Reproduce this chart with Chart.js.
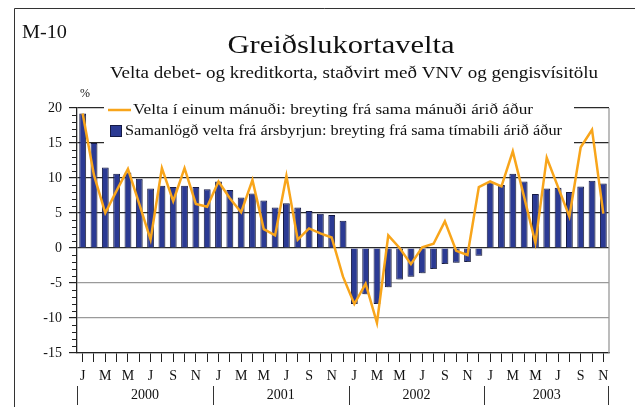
<!DOCTYPE html>
<html>
<head>
<meta charset="utf-8">
<script src="https://cdn.jsdelivr.net/npm/chart.js@4.4.0/dist/chart.umd.min.js"></script>
<style>
html, body { margin: 0; padding: 0; background: #fff; }
</style>
</head>
<body>
<canvas id="kortChart" width="635" height="407"></canvas>
<script>
// Greiðslukortavelta - gögn lesin af mynd
const years = ['2000', '2001', '2002', '2003'];
const monthsPerYear = [12, 12, 12, 11];
const monthLetters = ['J', 'F', 'M', 'A', 'M', 'J', 'J', 'Á', 'S', 'O', 'N', 'D'];

// Velta í einum mánuði: breyting frá sama mánuði árið áður (%)
const monthChange = [
    19.2, 10.4, 5.0, 8.2, 11.3, 6.3, 1.2, 11.4, 6.7, 11.4, 6.3, 5.9,
    9.5, 7.1, 5.1, 9.7, 2.7, 1.8, 10.3, 1.2, 2.8, 2.1, 1.5, -4.1,
    -8.0, -5.1, -10.7, 1.8, 0.0, -2.3, 0.1, 0.6, 3.8, -0.4, -1.0, 8.7,
    9.5, 8.8, 13.8, 7.3, 0.7, 12.9, 8.7, 4.5, 14.4, 16.9, 4.9
];

// Samanlögð velta frá ársbyrjun: breyting frá sama tímabili árið áður (%)
const ytdChange = [
    19.2, 15.0, 11.5, 10.6, 10.8, 9.9, 8.5, 8.9, 8.7, 8.9, 8.7, 8.4,
    9.5, 8.3, 7.2, 7.8, 6.8, 5.8, 6.4, 5.8, 5.3, 4.9, 4.7, 3.9,
    -8.0, -6.6, -8.0, -5.6, -4.5, -4.1, -3.6, -3.0, -2.3, -2.1, -2.0, -1.1,
    9.4, 9.0, 10.6, 9.5, 7.7, 8.5, 8.6, 8.0, 8.8, 9.6, 9.2
];

const yMin = -15, yMax = 20, yStep = 5;

const labels = [];
monthsPerYear.forEach(n => {
    for (let m = 0; m < n; m++) labels.push(monthLetters[m]);
});

const serif = '"Liberation Serif", "Times New Roman", serif';
const orange = '#F8A51B';
const blue = '#2B3A93';

// texti teygður láréttt í ákveðna breidd (letrið á myndinni er breiðara)
function wideText(c, text, x, y, width, align) {
    const w = c.measureText(text).width;
    const sx = width / w;
    c.save();
    c.translate(x, y);
    c.scale(sx, 1);
    c.textAlign = align;
    c.fillText(text, 0, 0);
    c.restore();
}

// teikna titla, ramma, skýringar og ár
const decor = {
    id: 'decor',
    beforeDraw(chart) {
        const c = chart.ctx;
        c.save();
        c.fillStyle = '#fff';
        c.fillRect(0, 0, chart.width, chart.height);
        c.strokeStyle = '#333';
        c.lineWidth = 1;
        c.beginPath();
        c.moveTo(14.5, chart.height);
        c.lineTo(14.5, 8.5);
        c.lineTo(chart.width, 8.5);
        c.stroke();
        c.restore();
    },
    beforeDatasetsDraw(chart) {
        const c = chart.ctx, a = chart.chartArea, y = chart.scales.y;
        c.save();
        // hvítur bakgrunnur skýringa
        c.fillStyle = '#fff';
        c.fillRect(104, a.top - 6, 470, 52);
        // litlar kvarðamerkingar
        c.strokeStyle = '#222';
        c.lineWidth = 1;
        c.beginPath();
        for (let v = yMin; v <= yMax; v++) {
            if (v % yStep === 0) continue;
            const py = Math.round(y.getPixelForValue(v)) + 0.5;
            c.moveTo(a.left - 5, py);
            c.lineTo(a.left, py);
        }
        c.stroke();
        // hægri rammi
        c.strokeStyle = '#999';
        c.lineWidth = 1.3;
        c.beginPath();
        c.moveTo(a.right, a.top);
        c.lineTo(a.right, a.bottom);
        c.stroke();
        c.restore();
    },
    beforeDatasetDraw(chart, args) {
        if (chart.data.datasets[args.index].type === 'bar') {
            const c = chart.ctx;
            c.save();
            c.shadowColor = 'rgba(110,110,110,0.45)';
            c.shadowOffsetX = 2;
            c.shadowOffsetY = 1;
        }
    },
    afterDatasetDraw(chart, args) {
        if (chart.data.datasets[args.index].type === 'bar') chart.ctx.restore();
    },
    afterDraw(chart) {
        const c = chart.ctx, x = chart.scales.x;
        const ds = chart.data.datasets;
        c.save();
        c.fillStyle = '#111';
        c.textBaseline = 'middle';

        c.font = '18px ' + serif;
        wideText(c, 'M-10', 22, 33, 45, 'left');

        c.font = '25px ' + serif;
        wideText(c, 'Greiðslukortavelta', 341, 46, 227, 'center');

        c.font = '16px ' + serif;
        wideText(c, 'Velta debet- og kreditkorta, staðvirt með VNV og gengisvísitölu', 354, 74, 488, 'center');

        c.font = '12px ' + serif;
        c.textAlign = 'center';
        c.fillText('%', 85, 94);

        // skýringar
        c.font = '15px ' + serif;
        c.strokeStyle = ds[0].borderColor;
        c.lineWidth = ds[0].borderWidth;
        c.beginPath();
        c.moveTo(108, 110);
        c.lineTo(131, 110);
        c.stroke();
        wideText(c, ds[0].label, 133, 110, 400, 'left');

        c.fillStyle = ds[1].backgroundColor;
        c.fillRect(110, 125, 12, 12);
        c.strokeStyle = ds[1].borderColor;
        c.lineWidth = 1;
        c.strokeRect(110.5, 125.5, 11, 11);
        c.fillStyle = '#111';
        wideText(c, ds[1].label, 125, 131, 437, 'left');

        // ár og skil milli ára
        const step = x.getPixelForValue(1) - x.getPixelForValue(0);
        c.font = '14px ' + serif;
        c.textAlign = 'center';
        c.strokeStyle = '#333';
        c.lineWidth = 1;
        let first = 0;
        c.beginPath();
        years.forEach((yr, i) => {
            const last = first + monthsPerYear[i] - 1;
            const left = x.getPixelForValue(first) - step / 2;
            const right = x.getPixelForValue(last) + step / 2;
            c.fillText(yr, (left + right) / 2, 395);
            c.moveTo(Math.round(left) + 0.5, 386);
            c.lineTo(Math.round(left) + 0.5, 405);
            if (i === years.length - 1) {
                c.moveTo(Math.round(right) - 0.5, 386);
                c.lineTo(Math.round(right) - 0.5, 405);
            }
            first = last + 1;
        });
        c.stroke();
        c.restore();
    }
};

const ctx = document.getElementById('kortChart').getContext('2d');
new Chart(ctx, {
    data: {
        labels: labels,
        datasets: [{
            type: 'line',
            label: 'Velta í einum mánuði: breyting frá sama mánuði árið áður',
            data: monthChange,
            borderColor: orange,
            borderWidth: 2.5,
            tension: 0,
            pointRadius: 0,
            fill: false
        }, {
            type: 'bar',
            label: 'Samanlögð velta frá ársbyrjun: breyting frá sama tímabili árið áður',
            data: ytdChange,
            backgroundColor: blue,
            borderColor: '#151a45',
            borderWidth: 1,
            barPercentage: 1.0,
            categoryPercentage: 0.6
        }]
    },
    options: {
        responsive: false,
        animation: false,
        events: [],
        layout: { padding: { top: 108, right: 26, left: 0, bottom: 0 } },
        plugins: {
            legend: { display: false },
            tooltip: { enabled: false }
        },
        scales: {
            x: {
                type: 'category',
                offset: true,
                afterFit: s => { s.height = 54; },
                grid: {
                    offset: false,
                    drawOnChartArea: false,
                    tickLength: 9,
                    tickColor: '#222'
                },
                border: { color: '#222', width: 1.3 },
                ticks: {
                    autoSkip: false,
                    maxRotation: 0,
                    padding: 6,
                    color: '#111',
                    font: { family: serif, size: 14 },
                    callback: function (val, i) {
                        return i % 2 === 0 ? this.getLabelForValue(val) : '';
                    }
                }
            },
            y: {
                min: yMin,
                max: yMax,
                afterFit: s => { s.width = 77; },
                grid: {
                    color: c => c.tick.value < 0 ? '#9a9a9a' : '#2a2a2a',
                    lineWidth: 1.2,
                    tickLength: 8,
                    tickColor: '#222'
                },
                border: { color: '#222', width: 1.3 },
                ticks: {
                    stepSize: yStep,
                    padding: 7,
                    color: '#111',
                    font: { family: serif, size: 14 }
                }
            }
        }
    },
    plugins: [decor]
});
</script>
</body>
</html>
